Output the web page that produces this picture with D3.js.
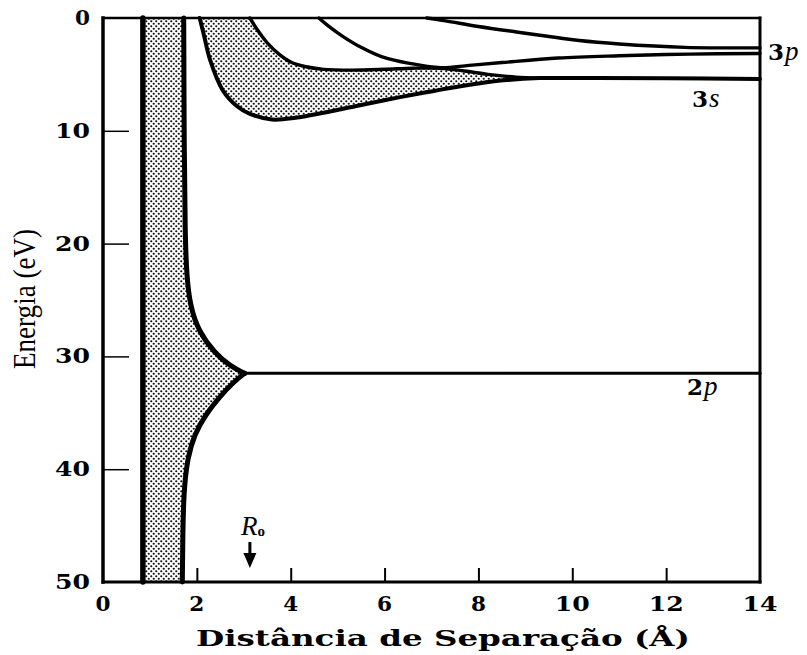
<!DOCTYPE html>
<html>
<head>
<meta charset="utf-8">
<script src="https://cdn.jsdelivr.net/npm/d3@7"></script>
<style>
  html, body { margin: 0; padding: 0; background: #fff; }
  svg { display: block; }
</style>
</head>
<body>
<svg id="chart" width="807" height="655"></svg>
<script>
// Axis ticks
const xTicks = [0, 2, 4, 6, 8, 10, 12, 14];
const yTicks = [0, 10, 20, 30, 40, 50];

// 2p band: inner wall and the two branches of the outer wall that meet at the 2p level
const band2pInner = [[0.85, 0], [0.85, 50]];
const band2pUpper = [[1.72, 0], [1.73, 12], [1.75, 19], [1.78, 22.8], [1.86, 25.6],
                     [2.04, 27.8], [2.38, 29.7], [2.72, 30.9], [3.02, 31.5]];
const band2pLower = [[3.02, 31.5], [2.8, 32.2], [2.48, 33.6], [2.18, 35.2], [1.95, 36.9],
                     [1.8, 39.0], [1.72, 42], [1.7, 46], [1.69, 50]];
const level2p = [[3.02, 31.5], [14, 31.5]];

// 3s band edges (energies in eV below zero)
const band3sLower = [[2.06, 0], [2.15, 1.5], [2.28, 3.7], [2.55, 6.4], [2.85, 7.8], [3.13, 8.5],
                     [3.6, 9.0], [4.1, 8.85], [4.7, 8.4], [5.4, 7.8], [6.1, 7.2], [6.8, 6.65],
                     [7.4, 6.2], [8.0, 5.8], [8.6, 5.5], [9.3, 5.33], [10.5, 5.32], [12, 5.35], [14, 5.4]];
const band3sUpper = [[3.13, 0], [3.3, 1.1], [3.5, 2.2], [3.75, 3.2], [4.0, 3.9], [4.3, 4.3],
                     [4.7, 4.55], [5.3, 4.62], [6.0, 4.55], [6.6, 4.45], [7.2, 4.45], [7.7, 4.7],
                     [8.2, 5.0], [8.8, 5.25], [9.3, 5.33]];

// 3p band edges
const band3pLower = [[4.6, 0], [4.8, 0.7], [5.1, 1.6], [5.5, 2.6], [5.95, 3.45], [6.5, 4.0],
                     [7.2, 4.4], [7.8, 4.2], [8.5, 3.95], [9.7, 3.55], [11, 3.35], [12.5, 3.2], [14, 3.15]];
const band3pUpper = [[6.9, 0], [7.3, 0.25], [8.0, 0.75], [9.0, 1.35], [9.7, 1.75], [10.15, 2.0],
                     [11, 2.3], [12.4, 2.6], [14, 2.65]];

// Equilibrium spacing marker
const r0Spacing = 3.13;

const svg = d3.select("#chart");
const x = d3.scaleLinear().domain([0, 14]).range([103, 760]);
const y = d3.scaleLinear().domain([0, 50]).range([18, 582]);

const defs = svg.append("defs");
const pat = defs.append("pattern")
  .attr("id", "stipple")
  .attr("width", 5).attr("height", 5)
  .attr("patternUnits", "userSpaceOnUse");
pat.append("rect").attr("width", 5).attr("height", 5).attr("fill", "#fff");
pat.append("circle").attr("cx", 1.25).attr("cy", 1.25).attr("r", 1.1).attr("fill", "#111");
pat.append("circle").attr("cx", 3.75).attr("cy", 3.75).attr("r", 1.1).attr("fill", "#111");

const smooth = d3.line().x(d => x(d[0])).y(d => y(d[1])).curve(d3.curveCatmullRom.alpha(0.5));
const wall = d3.line().x(d => x(d[0])).y(d => y(d[1])).curve(d3.curveBasis);
const straight = d3.line().x(d => x(d[0])).y(d => y(d[1]));

// --- stippled band fills ---
const fill2p = straight([band2pInner[0]]) + wall(band2pUpper).replace(/^M/, "L") +
  wall(band2pLower).replace(/^M/, "L") + "L" + x(0.85) + "," + y(50) + "Z";
svg.append("path").attr("d", fill2p).attr("fill", "url(#stipple)").attr("stroke", "none");

const lower3sPart = band3sLower.filter(d => d[0] <= 9.3);
const fill3s = smooth(lower3sPart) + smooth(band3sUpper.slice().reverse()).replace(/^M/, "L") + "Z";
svg.append("path").attr("d", fill3s).attr("fill", "url(#stipple)").attr("stroke", "none");

// --- frame ---
const frame = svg.append("g").attr("stroke", "#000").attr("fill", "none").attr("stroke-linecap", "square");
frame.append("line").attr("x1", x(0)).attr("x2", x(0)).attr("y1", y(0)).attr("y2", y(50)).attr("stroke-width", 3.5);
frame.append("line").attr("x1", x(0)).attr("x2", x(14)).attr("y1", y(50)).attr("y2", y(50)).attr("stroke-width", 3);
frame.append("line").attr("x1", x(0)).attr("x2", x(14)).attr("y1", y(0)).attr("y2", y(0)).attr("stroke-width", 2.5);
frame.append("line").attr("x1", x(14)).attr("x2", x(14)).attr("y1", y(0)).attr("y2", y(50)).attr("stroke-width", 3);

// inward ticks
const xAxis = d3.axisTop(x).tickValues(xTicks.filter(v => v > 0 && v < 14)).tickSize(14).tickFormat("");
svg.append("g").attr("transform", `translate(0,${y(50)})`).call(xAxis)
  .call(g => g.select(".domain").remove())
  .call(g => g.selectAll(".tick line").attr("stroke", "#000").attr("stroke-width", 2));
const yAxis = d3.axisRight(y).tickValues(yTicks.filter(v => v > 0 && v < 50)).tickSize(26).tickFormat("");
svg.append("g").attr("transform", `translate(${x(0)},0)`).call(yAxis)
  .call(g => g.select(".domain").remove())
  .call(g => g.selectAll(".tick line").attr("stroke", "#000").attr("stroke-width", 1.5));

// --- curves ---
const curves = svg.append("g").attr("fill", "none").attr("stroke", "#000")
  .attr("stroke-linecap", "round").attr("stroke-linejoin", "round");
curves.append("path").attr("d", straight(band2pInner)).attr("stroke-width", 5.5);
curves.append("path").attr("d", wall(band2pUpper)).attr("stroke-width", 5);
curves.append("path").attr("d", wall(band2pLower)).attr("stroke-width", 5);
curves.append("path").attr("d", straight(level2p)).attr("stroke-width", 3);
curves.append("path").attr("d", smooth(band3sLower)).attr("stroke-width", 4);
curves.append("path").attr("d", smooth(band3sUpper)).attr("stroke-width", 3.4);
curves.append("path").attr("d", smooth(band3pLower)).attr("stroke-width", 3.4);
curves.append("path").attr("d", smooth(band3pUpper)).attr("stroke-width", 3.4);

// --- tick labels ---
const tickFont = "'DejaVu Serif', serif";
svg.append("g").selectAll("text").data(yTicks).join("text")
  .attr("x", 90).attr("y", d => y(d) + 7)
  .attr("text-anchor", "end")
  .attr("font-family", tickFont).attr("font-weight", "bold").attr("font-size", 20)
  .attr("textLength", d => String(d).length > 1 ? 35 : 15)
  .attr("lengthAdjust", "spacingAndGlyphs")
  .text(d => d);
svg.append("g").selectAll("text").data(xTicks).join("text")
  .attr("x", d => x(d)).attr("y", 611)
  .attr("text-anchor", "middle")
  .attr("font-family", tickFont).attr("font-weight", "bold").attr("font-size", 20)
  .attr("textLength", d => String(d).length > 1 ? 35 : 15)
  .attr("lengthAdjust", "spacingAndGlyphs")
  .text(d => d);

// --- axis titles ---
svg.append("text")
  .attr("x", 196).attr("y", 646)
  .attr("font-family", tickFont).attr("font-weight", "bold").attr("font-size", 22)
  .attr("textLength", 494).attr("lengthAdjust", "spacingAndGlyphs")
  .text("Distância de Separação (Å)");
svg.append("text")
  .attr("transform", "translate(35,369) rotate(-90)")
  .attr("font-family", "'Liberation Serif', serif").attr("font-size", 31)
  .attr("textLength", 140).attr("lengthAdjust", "spacingAndGlyphs")
  .text("Energia (eV)");

// --- level labels ---
function levelLabel(px, py, num, sym) {
  const t = svg.append("text").attr("x", px).attr("y", py)
    .attr("font-family", tickFont).attr("font-size", 23);
  t.append("tspan").attr("font-weight", "bold").text(num);
  t.append("tspan").attr("font-style", "italic").attr("font-family", "'Liberation Serif', serif")
    .attr("font-size", 27).attr("dx", 1).text(sym);
}
levelLabel(x(14) + 8, y(3.0) + 8, "3", "p");
levelLabel(692, y(5.4) + 28, "3", "s");
levelLabel(687, y(31.5) + 22, "2", "p");

// --- R0 marker ---
const r0 = svg.append("text").attr("x", x(r0Spacing) - 9).attr("y", 535)
  .attr("font-family", "'Liberation Serif', serif").attr("font-size", 27).attr("font-style", "italic");
r0.append("tspan").text("R");
r0.append("tspan").attr("font-style", "normal").attr("font-weight", "bold").attr("font-size", 15)
  .attr("dy", 1).text("o");
svg.append("line").attr("x1", x(r0Spacing)).attr("x2", x(r0Spacing)).attr("y1", 542).attr("y2", 557)
  .attr("stroke", "#000").attr("stroke-width", 3);
svg.append("path")
  .attr("d", `M${x(r0Spacing) - 6.5},553 L${x(r0Spacing) + 6.5},553 L${x(r0Spacing)},568 Z`)
  .attr("fill", "#000");
</script>
</body>
</html>
